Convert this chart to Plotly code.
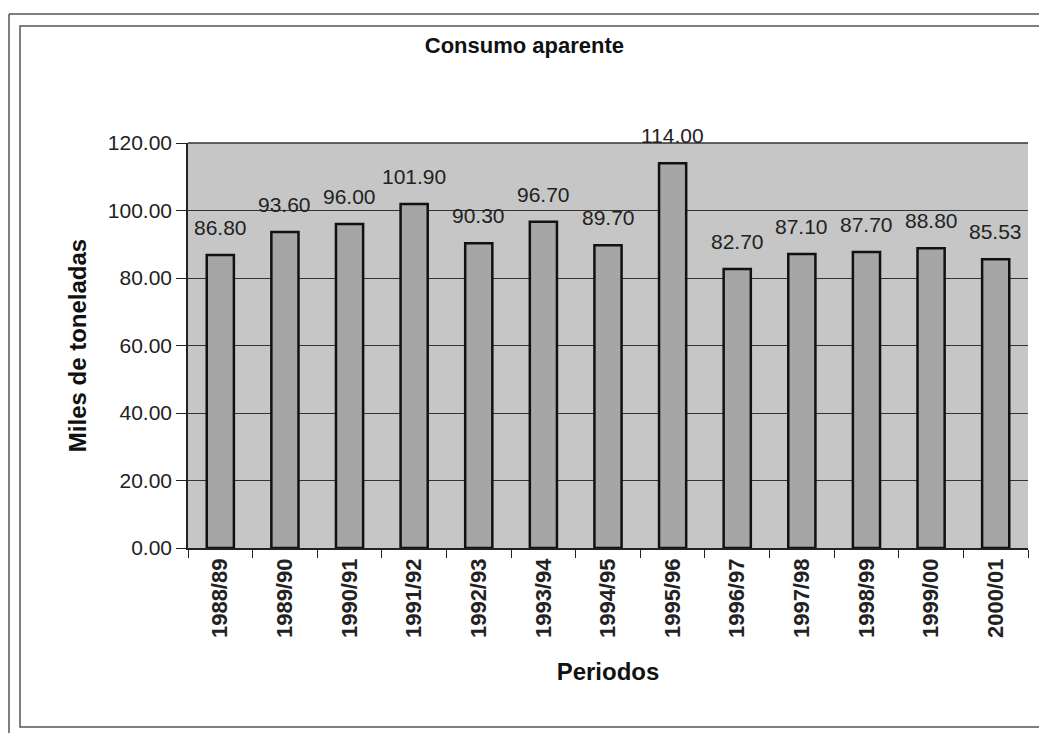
import plotly.graph_objects as go

periodos = ["1988/89", "1989/90", "1990/91", "1991/92", "1992/93", "1993/94", "1994/95",
            "1995/96", "1996/97", "1997/98", "1998/99", "1999/00", "2000/01"]
consumo = [86.80, 93.60, 96.00, 101.90, 90.30, 96.70, 89.70, 114.00, 82.70, 87.10, 87.70, 88.80, 85.53]
y_ticks = [0, 20, 40, 60, 80, 100, 120]

FONT = "Arial, Liberation Sans, sans-serif"
# figure is placed at (8,8) in the page; plot area x 180..1020, y 135..540 in figure coords
L, R, T, B = 180, 1020, 135, 540
W, H = 1039, 725
PW, PH = R - L, B - T


def px(X):
    return (X - L) / PW


def py(Y):
    return (B - Y) / PH


fig = go.Figure()
fig.add_trace(go.Bar(
    x=periodos, y=consumo,
    marker=dict(color="#a6a6a6", line=dict(color="#111111", width=2.5)),
    cliponaxis=False,
))
for cat, v in zip(periodos, consumo):
    fig.add_annotation(x=cat, y=v, text=f"{v:.2f}", showarrow=False,
                       yanchor="bottom", yshift=14,
                       font=dict(family=FONT, size=21, color="#222222"))

fig.update_layout(
    width=W, height=H,
    margin=dict(l=L, r=W - R, t=T, b=H - B),
    paper_bgcolor="white", plot_bgcolor="#c6c6c6",
    bargap=0.58,
    showlegend=False,
    title=dict(text="<b>Consumo aparente</b>", x=0.497, xanchor="center", y=1 - 37 / H, yanchor="middle",
               font=dict(family=FONT, size=22, color="#111111")),
    font=dict(family=FONT, color="#111111"),
)
fig.update_xaxes(
    type="category", tickangle=-90, tickson="boundaries", ticks="outside", ticklen=8,
    tickcolor="#222222", showline=True, linecolor="#222222", linewidth=1.5,
    tickfont=dict(family=FONT, size=22, color="#222222", weight="bold"),
    title=dict(text="<b>Periodos</b>", font=dict(size=24), standoff=26),
    showgrid=False,
)
fig.update_yaxes(
    range=[0, 120], tickvals=y_ticks, ticktext=[f"{v:.2f}" for v in y_ticks],
    ticks="outside", ticklen=10, tickcolor="#222222",
    showline=True, linecolor="#222222", linewidth=1.5, mirror=False,
    showgrid=True, gridcolor="#333333", gridwidth=1,
    tickfont=dict(family=FONT, size=21, color="#222222"),
    title=dict(text="<b>Miles de toneladas</b>", font=dict(size=24), standoff=14),
    zeroline=False,
)
# top border of plot area
fig.add_shape(type="line", xref="paper", yref="paper", x0=0, x1=1, y0=1, y1=1,
              line=dict(color="#333333", width=1.5))
# frames
fig.add_shape(type="rect", xref="paper", yref="paper",
              x0=px(12), x1=px(1037), y0=py(719), y1=py(18),
              line=dict(color="#555555", width=1.5))
fig.add_shape(type="line", xref="paper", yref="paper",
              x0=px(1), x1=px(W), y0=py(6), y1=py(6),
              line=dict(color="#555555", width=1.5))
fig.add_shape(type="line", xref="paper", yref="paper",
              x0=px(1), x1=px(1), y0=py(6), y1=py(H),
              line=dict(color="#555555", width=1.5))

fig.write_html("out.html")
